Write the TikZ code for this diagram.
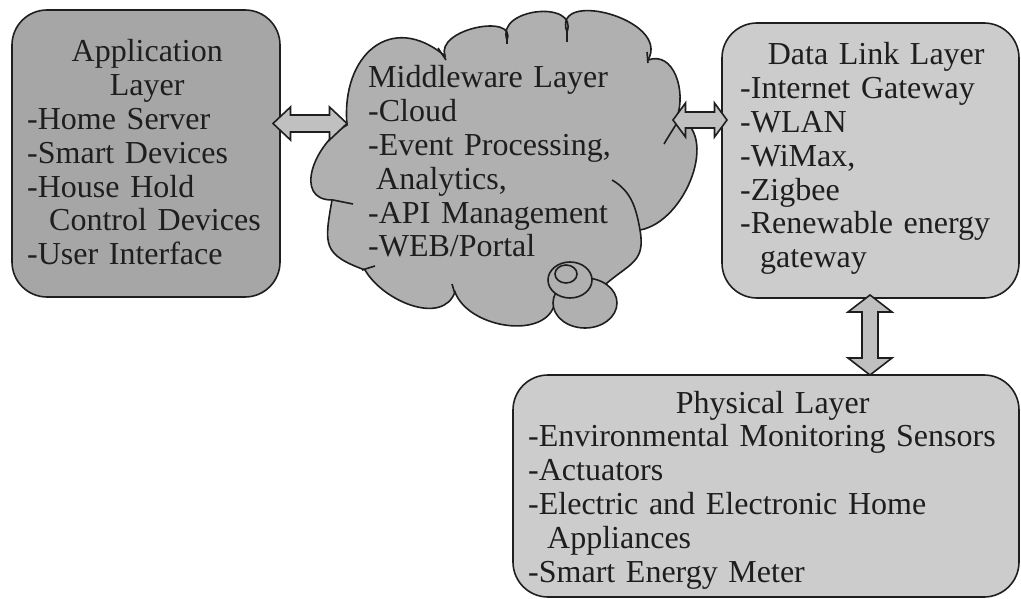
\documentclass[tikz,border=0pt]{standalone}
\usepackage{fontspec}
\setmainfont{Liberation Serif}
\usetikzlibrary{calc}

\definecolor{appgray}{RGB}{166,166,166}
\definecolor{cloudgray}{RGB}{176,176,176}
\definecolor{boxgray}{RGB}{204,204,204}
\definecolor{arrowgray}{RGB}{192,192,192}
\definecolor{ink}{RGB}{30,30,30}

\tikzset{
  layerbox/.style={draw=ink, line width=1.6pt, rounded corners=35pt, inner sep=0pt},
  layertext/.style={anchor=base west, inner sep=0pt, align=left, text=ink,
    font=\fontsize{32}{33.8}\selectfont},
  cloudline/.style={draw=ink, line width=1.6pt},
  linkarrow/.style={draw=ink, line width=1.6pt, fill=arrowgray, line join=miter}
}
\newcommand{\layertitle}[1]{\makebox[\linewidth]{#1}}
% hollow double arrow: name, from, to, shaft half width, head half width, head length
\newcommand{\blockarrow}[6]{%
  \coordinate (#1s) at ($(#2)!#6!(#3)$);
  \coordinate (#1e) at ($(#3)!#6!(#2)$);
  \draw[linkarrow] (#2) -- ($(#1s)!#5!90:(#3)$) -- ($(#1s)!#4!90:(#3)$)
    -- ($(#1e)!#4!-90:(#2)$) -- ($(#1e)!#5!-90:(#2)$) -- (#3)
    -- ($(#1e)!#5!90:(#2)$) -- ($(#1e)!#4!90:(#2)$)
    -- ($(#1s)!#4!-90:(#3)$) -- ($(#1s)!#5!-90:(#3)$) -- cycle;}

\begin{document}
\begin{tikzpicture}[x=1pt, y=-1pt]
  \useasboundingbox (0,0) rectangle (1021,599);

  % layer frames
  \node[layerbox, fill=appgray, minimum width=268pt, minimum height=287pt] (app) at (146,153.5) {};
  \node[layerbox, fill=boxgray, minimum width=297pt, minimum height=275pt] (dl) at (870.5,160.5) {};
  \node[layerbox, fill=boxgray, minimum width=506pt, minimum height=222pt] (phys) at (766,486) {};

  % middleware cloud
  \path[cloudline, fill=cloudgray] (347,125)
    to[out=95,in=140,looseness=1.5] (445,56)
    to[out=110,in=70,looseness=1.15] (507,40)
    to[out=110,in=70,looseness=1.45] (567,32)
    to[out=110,in=60,looseness=1.4] (648,60)
    to[out=20,in=70,looseness=1.1] (677,117)
    to[out=-20,in=10,looseness=1.0] (640,230)
    to[out=-80,in=40,looseness=1.3] (607,283)
    to[out=-150,in=20] (555,302)
    to[out=-100,in=-70] (455,292)
    to[out=-110,in=-60] (365,270)
    to[out=160,in=-100,looseness=1.5] (332,200)
    to[out=180,in=-150,looseness=1.3] cycle;
  \draw[cloudline] (438,48) -- (446,60);
  \draw[cloudline] (507,32) -- (507,44);
  \draw[cloudline] (567,30) -- (567,42);
  \draw[cloudline] (647,52) -- (648,63);
  \draw[cloudline] (664,144) to[out=60,in=-120] (678,121);
  \draw[cloudline] (612,180) to[out=-30,in=100] (640,230);
  \draw[cloudline] (452,284) -- (455,294);
  \draw[cloudline] (375,266) -- (362,270);
  \draw[cloudline] (333,200) -- (353,204);
  \draw[cloudline, fill=cloudgray] (585,303) ellipse [x radius=32pt, y radius=25pt];
  \draw[cloudline, fill=cloudgray] (570,280) ellipse [x radius=22pt, y radius=18pt];
  \draw[cloudline, fill=cloudgray] (566,274) ellipse [x radius=11pt, y radius=9pt];

  % texts
  \node[layertext, text width=240pt] (apptxt) at (27,62) {\layertitle{Application}\\
    \layertitle{Layer}\\
    -Home Server\\
    -Smart Devices\\
    -House Hold\\
    \hspace*{22pt}Control Devices\\
    -User Interface};
  \node[layertext, text width=250pt] (midtxt) at (368,88) {Middleware Layer\\
    -Cloud\\
    -Event Processing,\\
    \hspace*{8pt}Analytics,\\
    -API Management\\
    -WEB/Portal};
  \node[layertext, text width=272pt] (dltxt) at (740,65) {\layertitle{Data Link Layer}\\
    -Internet Gateway\\
    -WLAN\\
    -WiMax,\\
    -Zigbee\\
    -Renewable energy\\
    \hspace*{20pt}gateway};
  \node[layertext, text width=489pt] (phystxt) at (528,413) {\layertitle{Physical Layer}\\
    -Environmental Monitoring Sensors\\
    -Actuators\\
    -Electric and Electronic Home\\
    \hspace*{19pt}Appliances\\
    -Smart Energy Meter};

  % links between layers
  \coordinate (appport) at (273,123.5);
  \coordinate (midwest) at (347,123.5);
  \coordinate (mideast) at (673,120);
  \coordinate (dlwest) at (727,120);
  \coordinate (dlsouth) at (870,295);
  \coordinate (physnorth) at (870,375);
  \blockarrow{appmid}{appport}{midwest}{8.5pt}{16.5pt}{17.5pt}
  \blockarrow{middl}{mideast}{dlwest}{8pt}{17pt}{12.5pt}
  \blockarrow{dlphys}{dlsouth}{physnorth}{8pt}{22pt}{17pt}
\end{tikzpicture}
\end{document}
